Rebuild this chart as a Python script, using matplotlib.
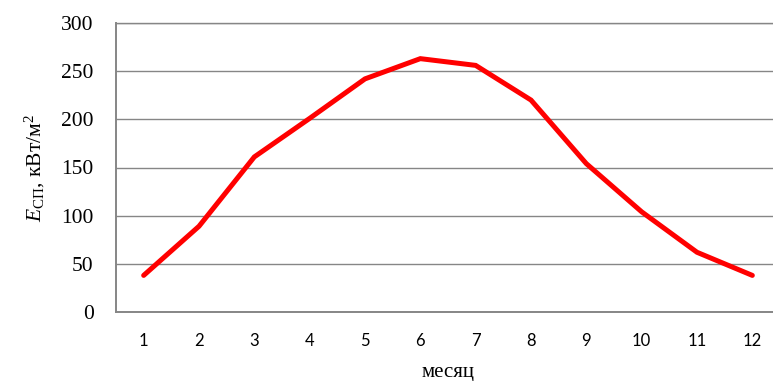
import matplotlib

matplotlib.use("Agg")
import matplotlib.pyplot as plt

months = list(range(1, 13))
month_labels = [str(m) for m in months]
energy = [38, 89, 161, 201, 242, 263, 256, 220, 154, 104, 62, 38]
y_ticks = [0, 50, 100, 150, 200, 250, 300]

plt.rcParams["mathtext.fontset"] = "custom"
plt.rcParams["mathtext.rm"] = "Liberation Serif"
plt.rcParams["mathtext.it"] = "Liberation Serif:italic"

GRID = "#868686"

fig = plt.figure(figsize=(7.73, 3.81), dpi=100)
ax = fig.add_axes([116 / 773, 1 - 312 / 381, (780 - 116) / 773, 289 / 381])

ax.plot(months, energy, color="#FF0000", lw=3.6, solid_joinstyle="miter", solid_capstyle="round", zorder=3)

ax.set_xlim(0.5, 12.5)
ax.set_ylim(0, 300)
ax.set_yticks(y_ticks)
ax.set_xticks(months)
ax.set_xticklabels(month_labels, fontfamily="Lato", fontsize=12)
ax.set_yticklabels([str(v) for v in y_ticks], fontfamily="Liberation Serif", fontsize=15.5)
ax.tick_params(axis="y", length=0, pad=16)
ax.tick_params(axis="x", length=0, pad=15)

ax.grid(True, axis="y", color=GRID, lw=1.0)
ax.set_axisbelow(True)
for s in ax.spines.values():
    s.set_color(GRID)
    s.set_linewidth(1.4)
ax.spines["top"].set_linewidth(1.0)

ax.set_xlabel("месяц", fontfamily="Liberation Serif", fontsize=15, labelpad=10)
ax.set_ylabel(r"$E_{\mathrm{СП}}$, кВт/м$^2$", fontfamily="Liberation Serif", fontsize=15.5, labelpad=10)

fig.savefig("out.png", dpi=100)
